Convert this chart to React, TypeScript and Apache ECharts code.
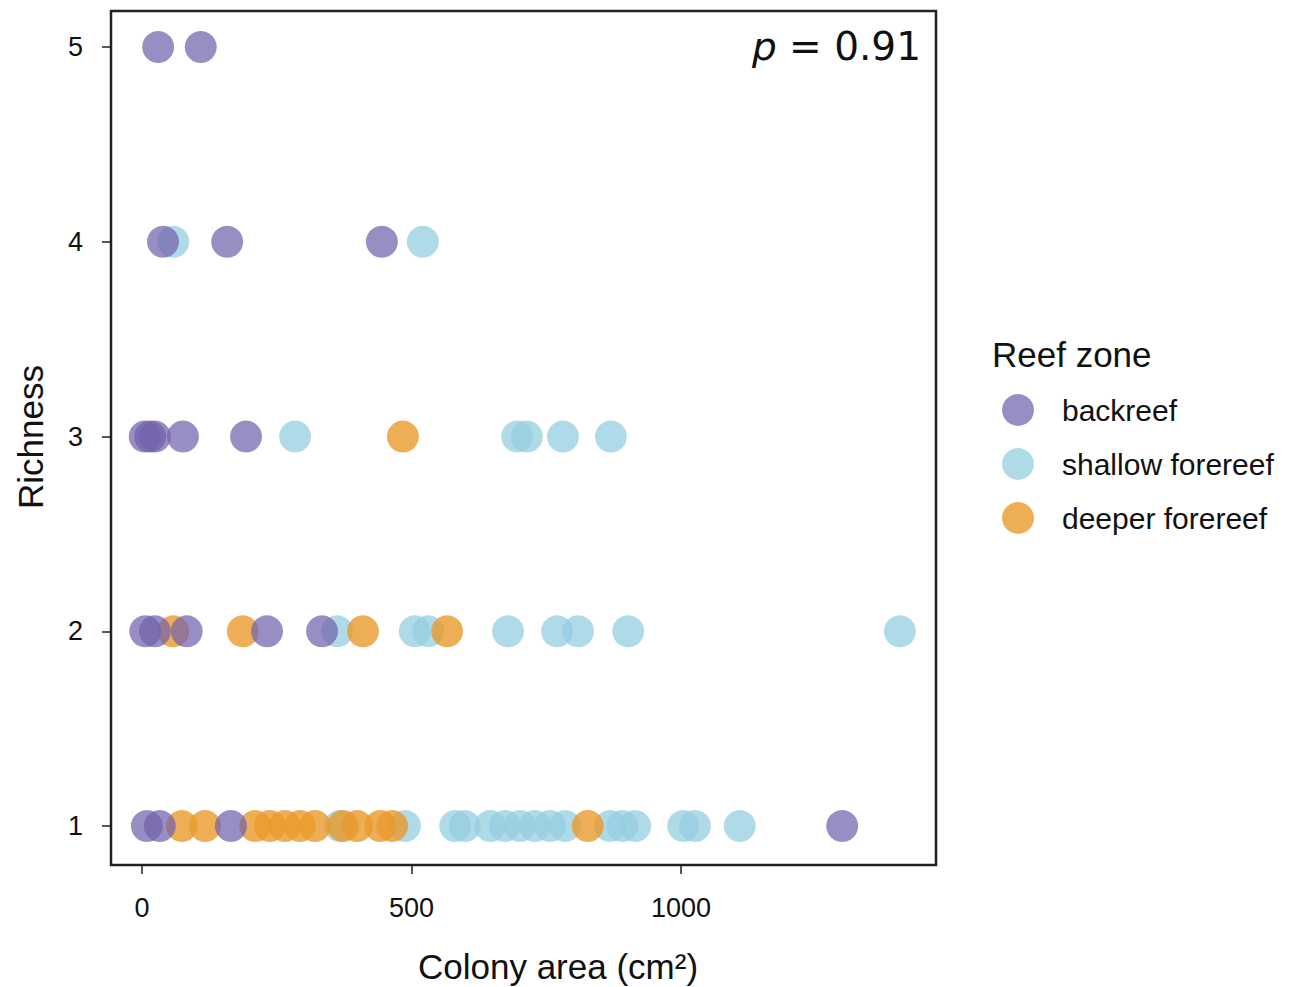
import React, { useEffect, useRef } from "react";
import * as echarts from "echarts";

const xTicks = [0, 500, 1000];
const yTicks = [1, 2, 3, 4, 5];

const groups = ["backreef", "shallow forereef", "deeper forereef"];
const groupColors = ["#7262ac", "#94cde0", "#e89a2c"];

// colony area (cm2) and richness per point, by reef zone
const backreefArea = [9, 33, 165, 1299, 6, 24, 83, 232, 334, 5, 15, 24, 76, 193, 39, 158, 445, 30, 109];
const backreefRich = [1, 1, 1, 1, 2, 2, 2, 2, 2, 3, 3, 3, 3, 3, 4, 4, 4, 5, 5];

const shallowArea = [367, 488, 581, 599, 646, 673, 701, 729, 757, 785, 868, 891, 915, 1004, 1026, 1109, 362, 506, 531, 679, 770, 809, 902, 1406, 284, 696, 714, 781, 870, 58, 521];
const shallowRich = [1, 1, 1, 1, 1, 1, 1, 1, 1, 1, 1, 1, 1, 1, 1, 1, 2, 2, 2, 2, 2, 2, 2, 2, 3, 3, 3, 3, 3, 4, 4];

const deeperArea = [74, 117, 210, 237, 265, 293, 321, 373, 399, 442, 464, 827, 58, 187, 410, 566, 484];
const deeperRich = [1, 1, 1, 1, 1, 1, 1, 1, 1, 1, 1, 1, 2, 2, 2, 2, 3];

const pValue = "0.91";

const zip = (a: number[], b: number[]) => a.map((v, i) => [v, b[i]]);

export default function App() {
  const ref = useRef<HTMLDivElement>(null);
  useEffect(() => {
    if (!ref.current) return;
    const chart = echarts.init(ref.current, null, { renderer: "svg" });
    const font = "Liberation Sans";
    const mk = (name: string, data: number[][], color: string, opacity: number) => ({
      type: "scatter",
      name,
      data,
      symbol: "circle",
      symbolSize: 32,
      itemStyle: { color, opacity },
      emphasis: { disabled: true },
    });
    chart.setOption({
      animation: false,
      backgroundColor: "#fff",
      grid: {
        left: 111,
        top: 11,
        width: 825,
        height: 854,
        show: true,
        borderColor: "#222",
        borderWidth: 2.5,
        backgroundColor: "transparent",
      },
      xAxis: {
        type: "value",
        min: -57.5,
        max: 1473,
        axisLine: { show: false, onZero: false },
        splitLine: { show: false },
        axisTick: { show: true, customValues: xTicks, length: 9, lineStyle: { color: "#222", width: 1.5 } },
        axisLabel: {
          customValues: xTicks,
          margin: 29,
          fontSize: 27,
          color: "#111",
          fontFamily: font,
          formatter: (v: number) => String(v),
        },
      },
      yAxis: {
        type: "value",
        min: 0.8,
        max: 5.185,
        axisLine: { show: false, onZero: false },
        splitLine: { show: false },
        axisTick: { show: true, customValues: yTicks, length: 9, lineStyle: { color: "#222", width: 1.5 } },
        axisLabel: { customValues: yTicks, margin: 28, fontSize: 27, color: "#111", fontFamily: font },
      },
      legend: {
        orient: "vertical",
        left: 1002,
        top: 394,
        padding: 0,
        icon: "circle",
        itemWidth: 32,
        itemHeight: 32,
        itemGap: 22,
        selectedMode: false,
        data: groups,
        textStyle: { fontSize: 30, color: "#111", fontFamily: font, padding: [0, 0, 0, 23] },
      },
      graphic: [
        {
          type: "text",
          left: 992,
          top: 337,
          style: { text: "Reef zone", fontSize: 35, fill: "#111", fontFamily: font },
        },
        {
          type: "text",
          x: 558,
          y: 966,
          style: {
            text: "Colony area (cm²)",
            fontSize: 35,
            fill: "#111",
            fontFamily: font,
            align: "center",
            verticalAlign: "middle",
          },
        },
        {
          type: "text",
          x: 30,
          y: 437,
          rotation: Math.PI / 2,
          style: {
            text: "Richness",
            fontSize: 35,
            fill: "#111",
            fontFamily: font,
            align: "center",
            verticalAlign: "middle",
          },
        },
        {
          type: "text",
          x: 921,
          y: 46,
          style: {
            text: "{i|p} = " + pValue,
            align: "right",
            verticalAlign: "middle",
            rich: {
              i: { fontSize: 39, fontStyle: "italic", fontFamily: "DejaVu Sans", fill: "#111" },
            },
            fontSize: 39,
            fontFamily: "DejaVu Sans",
            fill: "#111",
          },
        },
      ],
      series: [
        mk(groups[1], zip(shallowArea, shallowRich), groupColors[1], 0.75),
        mk(groups[2], zip(deeperArea, deeperRich), groupColors[2], 0.8),
        mk(groups[0], zip(backreefArea, backreefRich), groupColors[0], 0.72),
      ],
    });
    return () => chart.dispose();
  }, []);
  return <div ref={ref} style={{ position: "fixed", left: 0, top: 0, width: 1290, height: 987 }} />;
}
